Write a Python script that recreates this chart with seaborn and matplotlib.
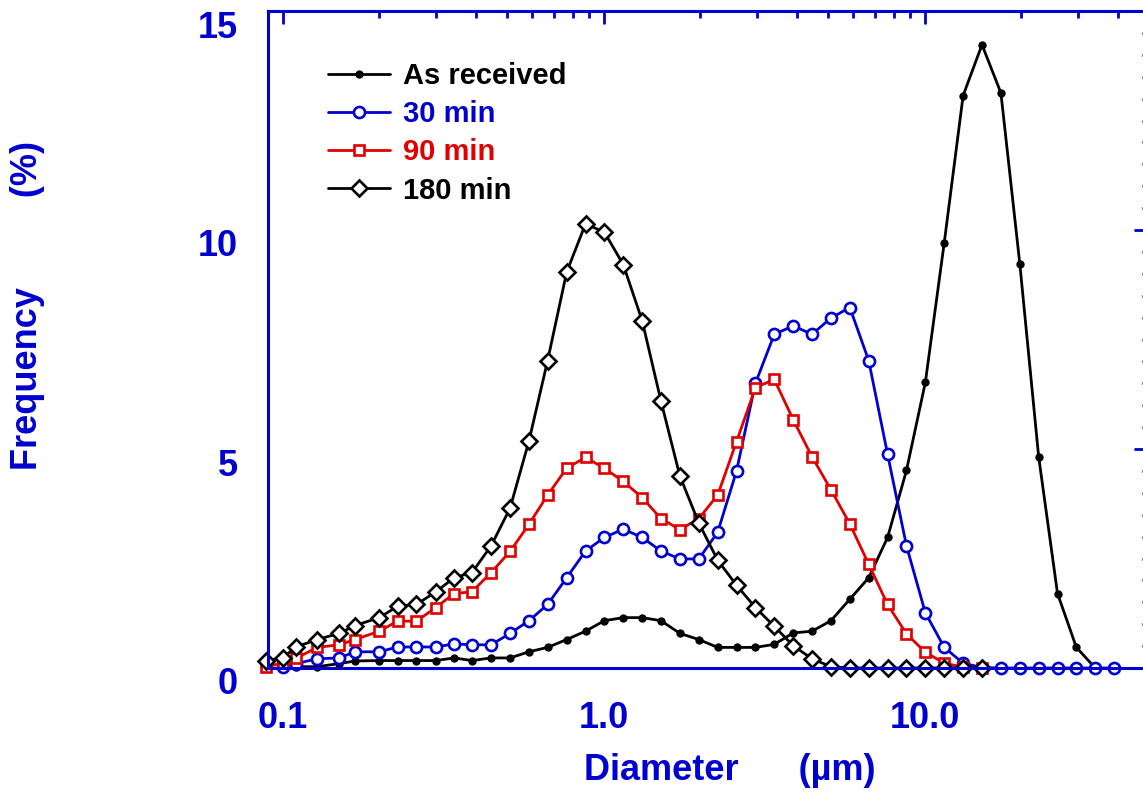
import matplotlib
matplotlib.use("Agg")
import matplotlib.pyplot as plt
import matplotlib.ticker as mticker
import matplotlib.transforms as mtrans
import seaborn as sns

# ── data ──────────────────────────────────────────────────────────────────────
# particle size bins (µm), log spaced
DIAMETERS = [0.089, 0.100, 0.110, 0.128, 0.150, 0.168, 0.200, 0.228, 0.261, 0.300,
             0.342, 0.389, 0.446, 0.511, 0.585, 0.669, 0.767, 0.878, 1.005, 1.151,
             1.318, 1.509, 1.728, 1.979, 2.266, 2.594, 2.970, 3.401, 3.894, 4.459,
             5.106, 5.846, 6.694, 7.665, 8.777, 10.05, 11.51, 13.18, 15.09, 17.28,
             19.79, 22.66, 25.94, 29.70, 34.01, 38.94]

# frequency (%) per bin; each series starts at a given bin index
AS_RECEIVED = [0.00, 0.03, 0.03, 0.10, 0.16, 0.17, 0.17, 0.17, 0.17, 0.23,
               0.17, 0.23, 0.23, 0.37, 0.47, 0.65, 0.84, 1.08, 1.15, 1.15,
               1.08, 0.79, 0.65, 0.47, 0.47, 0.47, 0.54, 0.80, 0.84, 1.08,
               1.57, 2.06, 2.98, 4.51, 6.52, 9.71, 13.07, 14.23, 13.13, 9.23,
               4.82, 1.70, 0.47, 0.00]
MIN30 = [0.02, 0.10, 0.21, 0.23, 0.37, 0.37, 0.48, 0.48, 0.48, 0.55,
         0.53, 0.53, 0.79, 1.08, 1.45, 2.06, 2.67, 2.98, 3.17, 2.98,
         2.67, 2.49, 2.49, 3.10, 4.50, 6.50, 7.62, 7.81, 7.62, 7.99,
         8.23, 7.02, 4.88, 2.79, 1.26, 0.47, 0.11, 0.01, 0.00, 0.00,
         0.00, 0.00, 0.00, 0.00, 0.00]
MIN90 = [0.02, 0.12, 0.22, 0.47, 0.53, 0.65, 0.84, 1.07, 1.07, 1.38,
         1.70, 1.74, 2.18, 2.66, 3.28, 3.95, 4.56, 4.81, 4.56, 4.26,
         3.89, 3.41, 3.16, 3.41, 3.95, 5.17, 6.40, 6.59, 5.67, 4.82,
         4.07, 3.29, 2.37, 1.45, 0.78, 0.36, 0.11, 0.02, 0.00]
MIN180 = [0.17, 0.23, 0.48, 0.65, 0.79, 0.97, 1.15, 1.41, 1.45, 1.74,
          2.06, 2.18, 2.79, 3.65, 5.18, 7.02, 9.04, 10.14, 9.95, 9.21,
          7.93, 6.09, 4.38, 3.31, 2.46, 1.89, 1.38, 0.95, 0.51, 0.21,
          0.03, 0.00, 0.00, 0.00, 0.00, 0.00, 0.00, 0.00, 0.00]

LABELS = ["As received", "30 min", "90 min", "180 min"]
X_TICKS = [0.1, 1.0, 10.0]
X_TICKLABELS = ["0.1", "1.0", "10.0"]
Y_TICKS = [0, 5, 10, 15]

# ── style ─────────────────────────────────────────────────────────────────────
BLUE = "#0000D0"
RED = "#E00000"
BLACK = "#000000"

sns.set_style("white")
plt.rcParams["font.family"] = ["Liberation Sans", "DejaVu Sans"]
plt.rcParams["font.weight"] = "bold"

fig = plt.figure(figsize=(11.43, 7.92), dpi=100)
ax = fig.add_axes([268 / 1143, 124 / 792, 881 / 1143, 657 / 792])

series = [
    # (values, first bin, colour, marker, size, filled)
    (AS_RECEIVED, 1, BLACK, "o", 6.0, True),
    (MIN30, 1, BLUE, "o", 8.0, False),
    (MIN90, 0, RED, "s", 7.8, False),
    (MIN180, 0, BLACK, "D", 8.0, False),
]

for label, (vals, start, col, mk, ms, filled) in zip(LABELS, series):
    xs = DIAMETERS[start:start + len(vals)]
    sns.lineplot(
        x=xs, y=vals, ax=ax, label=label,
        color=col, lw=2.0, marker=mk, markersize=ms,
        markerfacecolor=col if filled else "white",
        markeredgecolor=col, markeredgewidth=0 if filled else 1.9,
        clip_on=False,
    )

# ── axes ──────────────────────────────────────────────────────────────────────
ax.set_xscale("log")
ax.set_xlim(0.09, 50)
ax.set_ylim(0, 15)
ax.xaxis.set_major_locator(mticker.FixedLocator(X_TICKS))
ax.xaxis.set_major_formatter(mticker.FixedFormatter(X_TICKLABELS))
ax.xaxis.set_minor_locator(mticker.LogLocator(base=10, subs=range(2, 10), numticks=20))
ax.xaxis.set_minor_formatter(mticker.NullFormatter())
ax.yaxis.set_major_locator(mticker.FixedLocator(Y_TICKS))
ax.yaxis.set_minor_locator(mticker.MultipleLocator(0.5))

for sp in ax.spines.values():
    sp.set_color(BLUE)
    sp.set_linewidth(2.2)

ax.tick_params(which="both", direction="in", top=True, right=True,
               color=BLUE, width=2.0, labelcolor=BLUE)
ax.tick_params(axis="x", which="major", length=9.5, pad=24, labelsize=26)
ax.tick_params(axis="x", which="minor", length=5)
ax.tick_params(axis="y", which="major", length=10.8, pad=21.6, labelsize=26)
ax.tick_params(axis="y", which="minor", length=5.2)
ax.set_xlabel("")
ax.set_ylabel("")

# y tick labels sit a little below their ticks, as in the original
shift = mtrans.ScaledTranslation(0, -0.13, fig.dpi_scale_trans)
for tick in ax.yaxis.get_major_ticks():
    tick.label1.set_transform(tick.label1.get_transform() + shift)

# axis titles
fig.text(730 / 1143, 1 - 780 / 792, "Diameter      (µm)", color=BLUE,
         fontsize=26, fontweight="bold", ha="center", va="baseline")
fig.text(28 / 1143, 1 - 305 / 792, "Frequency         (%)", color=BLUE,
         fontsize=26, fontweight="bold", ha="center", va="center", rotation=90)

# legend
leg = ax.legend(loc="upper left", bbox_to_anchor=(0.068, 0.9224), frameon=False,
                fontsize=21, handlelength=2.12, handletextpad=0.45,
                labelspacing=0.35, borderpad=0, borderaxespad=0)
for txt, (_, _, col, _, _, _) in zip(leg.get_texts(), series):
    txt.set_color(col)

fig.savefig("out.png", dpi=100)
